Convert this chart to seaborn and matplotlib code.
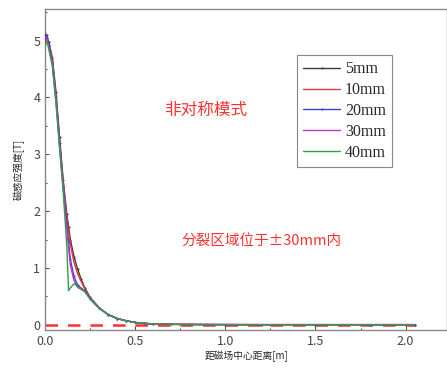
import numpy as np
import pandas as pd
import seaborn as sns
import matplotlib.pyplot as plt
from matplotlib.ticker import MultipleLocator

# 距离 (m)
dist = [0.0, 0.01, 0.02, 0.04, 0.06, 0.08, 0.10, 0.12, 0.13, 0.14, 0.16, 0.18, 0.20, 0.22,
        0.25, 0.30, 0.35, 0.40, 0.45, 0.50, 0.55, 0.60, 0.70, 0.80, 1.0, 1.2, 1.5, 1.8, 2.05]

# 磁感应强度 (T)
b_5mm = [5.12, 5.05, 4.98, 4.70, 4.10, 3.30, 2.55, 1.95, 1.72, 1.50, 1.20, 0.98, 0.80, 0.65,
         0.48, 0.30, 0.18, 0.11, 0.07, 0.04, 0.025, 0.015, 0.008, 0.005, 0.003, 0.002, 0.002, 0.002, 0.002]
b_10mm = [5.08, 5.02, 4.95, 4.66, 4.05, 3.25, 2.50, 1.90, 1.66, 1.42, 1.10, 0.90, 0.76, 0.63,
          0.47, 0.29, 0.18, 0.11, 0.07, 0.04, 0.025, 0.015, 0.008, 0.005, 0.003, 0.002, 0.002, 0.002, 0.002]
b_20mm = [5.00, 5.10, 4.92, 4.62, 4.00, 3.20, 2.45, 1.80, 1.45, 1.15, 0.85, 0.70, 0.64, 0.60,
          0.46, 0.29, 0.18, 0.11, 0.07, 0.04, 0.025, 0.015, 0.008, 0.005, 0.003, 0.002, 0.002, 0.002, 0.002]
b_30mm = [4.95, 5.05, 4.90, 4.58, 3.95, 3.15, 2.40, 1.70, 1.35, 1.05, 0.78, 0.66, 0.62, 0.59,
          0.46, 0.29, 0.18, 0.11, 0.07, 0.04, 0.025, 0.015, 0.008, 0.005, 0.003, 0.002, 0.002, 0.002, 0.002]
b_40mm = [4.90, 5.00, 4.85, 4.55, 3.90, 3.10, 2.35, 1.40, 0.60, 0.65, 0.72, 0.68, 0.63, 0.58,
          0.45, 0.29, 0.18, 0.11, 0.07, 0.04, 0.025, 0.015, 0.008, 0.005, 0.003, 0.002, 0.002, 0.002, 0.002]

labels = ['5mm', '10mm', '20mm', '30mm', '40mm']
colors = ['#3a3a3a', '#e8343a', '#4040c8', '#c030d0', '#30a040']
series = [b_5mm, b_10mm, b_20mm, b_30mm, b_40mm]

df = pd.concat([pd.DataFrame({'dist': dist, 'B': s, 'gap': lab})
                for s, lab in zip(series, labels)], ignore_index=True)

sns.set_style('ticks')
plt.rcParams['font.family'] = ['Noto Sans CJK SC', 'DejaVu Sans']

fig = plt.figure(figsize=(4.47, 3.69), dpi=100)
ax = fig.add_axes([0.101, 0.106, 0.899, 0.870])

# 零线
ax.plot([0, 2.05], [0, 0], color='#ff3030', ls=(0, (5, 4)), lw=1.8, zorder=1)

for lab, col in zip(labels, colors):
    mk = '.' if lab in ('5mm', '20mm') else None
    sns.lineplot(data=df[df['gap'] == lab], x='dist', y='B', color=col, label=lab,
                 marker=mk, markersize=3, markeredgewidth=0, lw=1.0, ax=ax,
                 sort=False, zorder=3)

ax.set_xlim(0, 2.23)
ax.set_ylim(-0.09, 5.56)
ax.set_xticks([0.0, 0.5, 1.0, 1.5, 2.0])
ax.set_yticks([0, 1, 2, 3, 4, 5])
ax.xaxis.set_minor_locator(MultipleLocator(0.25))
ax.yaxis.set_minor_locator(MultipleLocator(0.5))
ax.tick_params(direction='in', which='both', labelsize=9, labelcolor='#444444',
               length=3, width=0.6)
ax.tick_params(which='minor', length=1.5)
for sp in ax.spines.values():
    sp.set_color('#888888')
    sp.set_linewidth(1.0)

ax.set_xlabel('距磁场中心距离[m]', fontsize=7, labelpad=2)
ax.set_ylabel('磁感应强度[T]', fontsize=7, labelpad=6)

ax.text(0.89, 3.78, '非对称模式', color='#ff3030', fontsize=12, ha='center', va='center')
ax.text(1.2, 1.48, '分裂区域位于±30mm内', color='#ff3030', fontsize=10.5,
        ha='center', va='center')

leg = ax.legend(loc='upper left', bbox_to_anchor=(0.627, 0.856), borderaxespad=0,
                fancybox=False, framealpha=1, edgecolor='#888888',
                handlelength=2.3, handletextpad=0.3, borderpad=0.4,
                labelspacing=0.3, prop={'family': 'Liberation Serif', 'size': 11.5})
leg.get_frame().set_linewidth(0.8)

fig.savefig('out.png', dpi=100)
